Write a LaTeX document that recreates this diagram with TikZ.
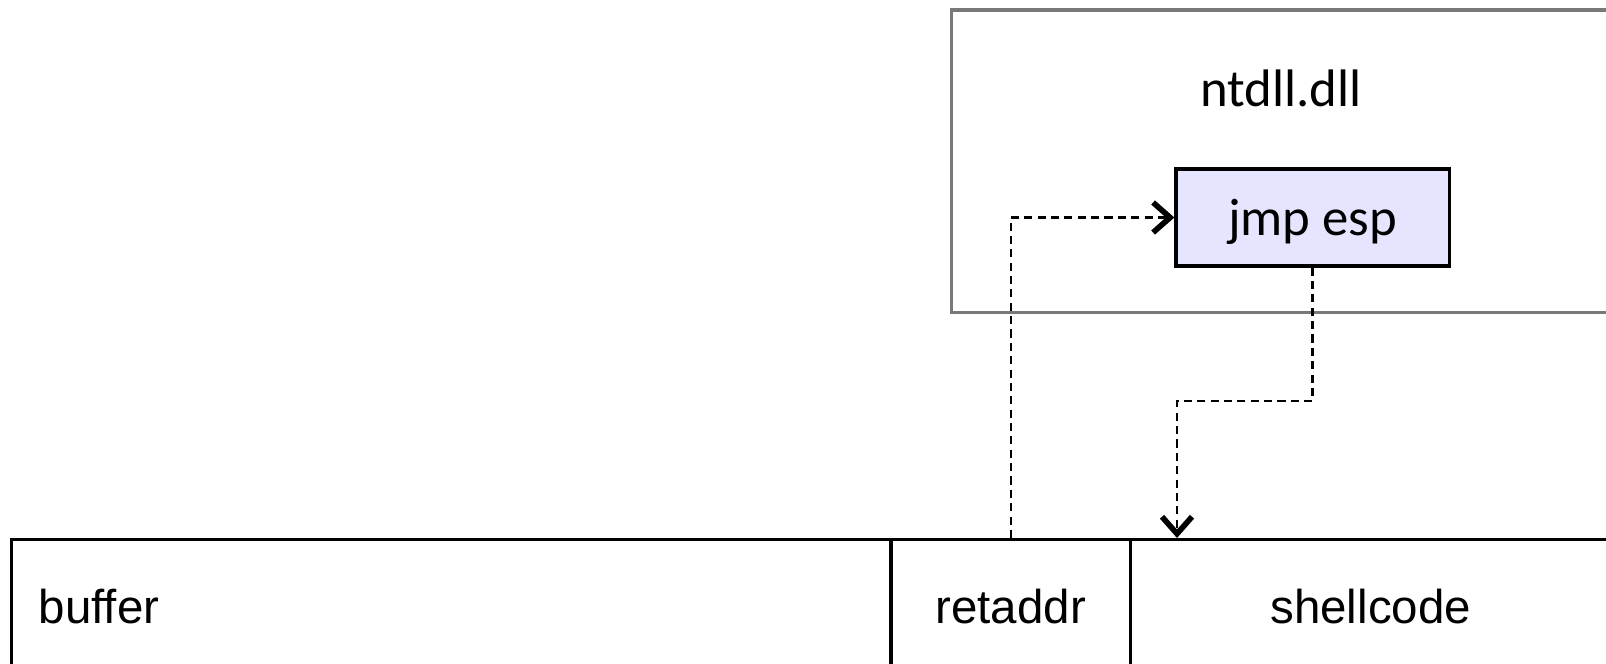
\documentclass[tikz,border=0pt]{standalone}
\usepackage{fontspec}
\setmainfont{Carlito}
\newfontfamily\cellfont{Liberation Sans}
\usetikzlibrary{arrows.meta, calc, positioning}
\definecolor{jmpfill}{RGB}{229,229,255}
\tikzset{
    dllBox/.style={rectangle, draw=gray!95!black, line width=0.9pt, minimum width=6.68cm, minimum height=3.02cm, inner sep=0pt},
    gadgetBox/.style={rectangle, draw, line width=0.9pt, fill=jmpfill, minimum width=2.73cm, minimum height=0.97cm, inner sep=0pt, text depth=0pt, font=\fontsize{15}{18}\selectfont},
    stackCell/.style={rectangle, draw, line width=0.9pt, minimum height=1.42cm, inner sep=0pt},
    cellText/.style={font=\cellfont\fontsize{13.5}{16}\selectfont, inner sep=0pt},
    jumpEdge/.style={dashed, dash pattern=on 2.3pt off 1.5pt, line width=0.65pt, -{Straight Barb[length=1.7mm, width=3mm, line width=1.6pt]}},
}
% one slot of the stack frame, label placed on the text line
\newcommand{\stackSlot}[4]{
    \node[stackCell, minimum width=#3, anchor=north west] (#1) at (#2) {};
    \node[cellText] at ($(#1.north)+(0,69)$) {#4};
}
\begin{document}
\begin{tikzpicture}[x=0.01cm, y=-0.01cm]
    \clip (0,0) rectangle (1606,663);

    % loaded module with the gadget
    \node[dllBox] (dll) at (1286,161) {};
    \node[font=\fontsize{15}{18}\selectfont, inner sep=0pt] (dllname) at (1281,88) {ntdll.dll};
    \node[gadgetBox] (jmp) at (1312.5,217.5) {jmp esp};

    % stack frame
    \node[stackCell, minimum width=8.79cm, anchor=north west] (buf) at (10,538) {};
    \node[cellText, anchor=west] (buflabel) at (38,607) {buffer};
    \stackSlot{ret}{889,538}{2.40cm}{retaddr}
    \stackSlot{shell}{1129,538}{4.80cm}{shellcode}

    \coordinate (turn) at (1177,401);
    \draw[jumpEdge] (ret.north) |- (jmp.west);
    \draw[jumpEdge] (jmp.south) |- (turn) -- (turn |- shell.north);

\end{tikzpicture}
\end{document}
